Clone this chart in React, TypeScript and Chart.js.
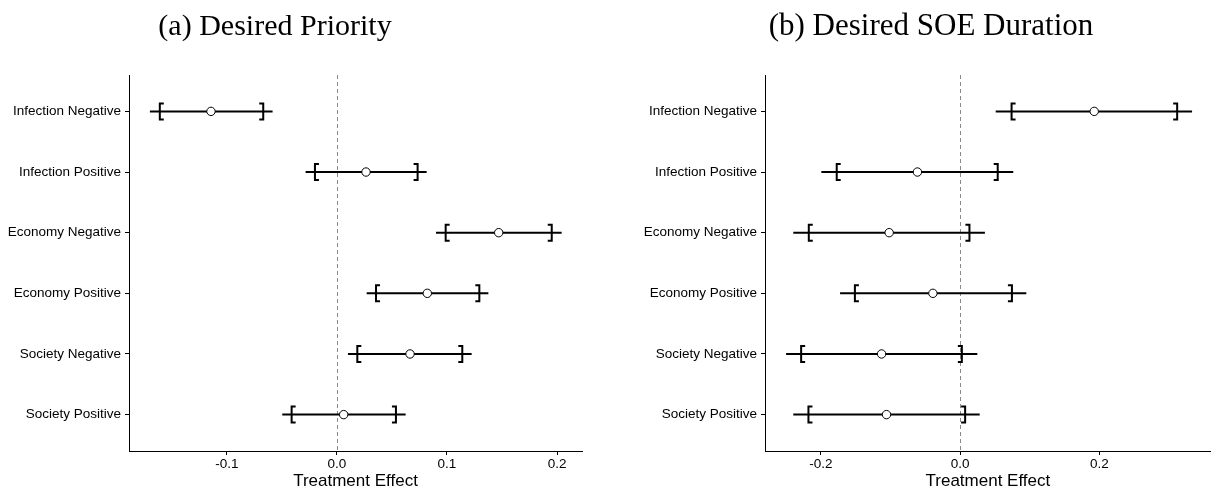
import React, { useEffect, useRef } from "react";
import { Chart, registerables } from "chart.js";

Chart.register(...registerables);

// Categories, top to bottom
const categories = [
  "Infection Negative",
  "Infection Positive",
  "Economy Negative",
  "Economy Positive",
  "Society Negative",
  "Society Positive",
];

// (a) Desired Priority
const priorityEstimate = [-0.1145, 0.0264, 0.147, 0.0821, 0.0664, 0.0061];
const priorityLow95 = [-0.17, -0.0285, 0.09, 0.027, 0.01, -0.0497];
const priorityHigh95 = [-0.0585, 0.0815, 0.2042, 0.1376, 0.1224, 0.0624];
const priorityLow90 = [-0.161, -0.02, 0.0988, 0.0355, 0.0185, -0.0412];
const priorityHigh90 = [-0.067, 0.0733, 0.1952, 0.1294, 0.1139, 0.0536];
const priorityTicks = [-0.1, 0.0, 0.1, 0.2];

// (b) Desired SOE Duration
const durationEstimate = [0.1925, -0.0614, -0.102, -0.0392, -0.1129, -0.1058];
const durationLow95 = [0.051, -0.1994, -0.2397, -0.1725, -0.25, -0.2397];
const durationHigh95 = [0.333, 0.0762, 0.0355, 0.095, 0.0246, 0.028];
const durationLow90 = [0.0738, -0.1773, -0.2174, -0.1512, -0.2284, -0.2179];
const durationHigh90 = [0.3116, 0.0539, 0.0133, 0.0743, 0.0024, 0.0071];
const durationTicks = [-0.2, 0.0, 0.2];

const SANS = '"Liberation Sans", Arial, sans-serif';
const SERIF = '"Liberation Serif", "Times New Roman", serif';

type PanelSpec = {
  title: string;
  titleX: number;
  titleSize: number;
  estimate: number[];
  low95: number[];
  high95: number[];
  low90: number[];
  high90: number[];
  ticks: number[];
  xMin: number;
  xMax: number;
  yAxisWidth: number;
  padRight: number;
};

const intervalPlugin = {
  id: "intervals",
  beforeDatasetsDraw(chart: any) {
    const opts = chart.options.plugins.intervals;
    if (!opts) return;
    const { ctx, chartArea } = chart;
    const xs = chart.scales.x;
    const ys = chart.scales.y;
    const n = opts.low95.length;
    ctx.save();
    // dashed zero reference line
    const x0 = Math.round(xs.getPixelForValue(0)) + 0.5;
    ctx.strokeStyle = "#8a8a8a";
    ctx.lineWidth = 1;
    ctx.setLineDash([4, 3]);
    ctx.beginPath();
    ctx.moveTo(x0, chartArea.top);
    ctx.lineTo(x0, chartArea.bottom);
    ctx.stroke();
    ctx.setLineDash([]);
    ctx.strokeStyle = "#000";
    ctx.lineWidth = 2;
    ctx.lineCap = "butt";
    for (let i = 0; i < n; i++) {
      const y = ys.getPixelForValue(n - i);
      const a = xs.getPixelForValue(opts.low95[i]);
      const b = xs.getPixelForValue(opts.high95[i]);
      ctx.beginPath();
      ctx.moveTo(a, y);
      ctx.lineTo(b, y);
      ctx.stroke();
      const l = xs.getPixelForValue(opts.low90[i]);
      const h = xs.getPixelForValue(opts.high90[i]);
      const hh = 8;
      const s = 4;
      ctx.beginPath();
      ctx.moveTo(l + s, y - hh);
      ctx.lineTo(l, y - hh);
      ctx.lineTo(l, y + hh);
      ctx.lineTo(l + s, y + hh);
      ctx.stroke();
      ctx.beginPath();
      ctx.moveTo(h - s, y - hh);
      ctx.lineTo(h, y - hh);
      ctx.lineTo(h, y + hh);
      ctx.lineTo(h - s, y + hh);
      ctx.stroke();
    }
    ctx.restore();
  },
};

const panelTitlePlugin = {
  id: "panelTitle",
  afterDraw(chart: any) {
    const opts = chart.options.plugins.panelTitle;
    if (!opts) return;
    const { ctx } = chart;
    ctx.save();
    ctx.fillStyle = "#000";
    ctx.font = `${opts.size}px ${SERIF}`;
    ctx.textAlign = "center";
    ctx.textBaseline = "alphabetic";
    ctx.fillText(opts.text, opts.x, opts.y);
    ctx.restore();
  },
};

function Panel({ spec }: { spec: PanelSpec }) {
  const ref = useRef<HTMLCanvasElement | null>(null);
  useEffect(() => {
    if (!ref.current) return;
    const n = categories.length;
    const chart = new Chart(ref.current, {
      type: "scatter",
      data: {
        datasets: [
          {
            data: spec.estimate.map((v, i) => ({ x: v, y: n - i })),
            pointRadius: 4.2,
            pointHoverRadius: 4.2,
            pointBackgroundColor: "#ffffff",
            pointBorderColor: "#000000",
            pointBorderWidth: 1,
          },
        ],
      },
      options: {
        responsive: false,
        animation: false,
        events: [],
        layout: { padding: { top: 75, right: spec.padRight, left: 0, bottom: 0 } },
        plugins: {
          legend: { display: false },
          tooltip: { enabled: false },
          title: { display: false },
          intervals: {
            low95: spec.low95,
            high95: spec.high95,
            low90: spec.low90,
            high90: spec.high90,
          },
          panelTitle: { text: spec.title, x: spec.titleX, y: 35, size: spec.titleSize },
        } as any,
        scales: {
          x: {
            type: "linear",
            min: spec.xMin,
            max: spec.xMax,
            afterBuildTicks: (s: any) => {
              s.ticks = spec.ticks.map((v) => ({ value: v }));
            },
            afterFit: (s: any) => {
              s.height = 42;
            },
            ticks: {
              callback: (v: any) => Number(v).toFixed(1),
              font: { family: SANS, size: 13.5 },
              color: "#000",
              padding: 1,
              maxRotation: 0,
              autoSkip: false,
            },
            grid: {
              display: true,
              drawOnChartArea: false,
              drawTicks: true,
              tickLength: 4,
              color: "#000",
              lineWidth: 1,
            },
            border: { display: true, color: "#000", width: 1 },
            title: {
              display: true,
              text: "Treatment Effect",
              font: { family: SANS, size: 17 },
              color: "#000",
              padding: { top: 0, bottom: 1 },
            },
          },
          y: {
            type: "linear",
            min: 0.4,
            max: 6.6,
            afterBuildTicks: (s: any) => {
              s.ticks = categories.map((_, i) => ({ value: n - i }));
            },
            afterFit: (s: any) => {
              s.width = spec.yAxisWidth;
            },
            ticks: {
              callback: (v: any) => categories[n - Number(v)],
              font: { family: SANS, size: 13.5 },
              color: "#000",
              padding: 4,
              autoSkip: false,
            },
            grid: {
              display: true,
              drawOnChartArea: false,
              drawTicks: true,
              tickLength: 4,
              color: "#000",
              lineWidth: 1,
            },
            border: { display: true, color: "#000", width: 1 },
          },
        },
      },
      plugins: [intervalPlugin, panelTitlePlugin],
    } as any);
    return () => chart.destroy();
  }, [spec]);
  return <canvas ref={ref} width={608} height={493} style={{ display: "block" }} />;
}

const leftSpec: PanelSpec = {
  title: "(a) Desired Priority",
  titleX: 275,
  titleSize: 30,
  estimate: priorityEstimate,
  low95: priorityLow95,
  high95: priorityHigh95,
  low90: priorityLow90,
  high90: priorityHigh90,
  ticks: priorityTicks,
  xMin: -0.189,
  xMax: 0.2227,
  yAxisWidth: 129,
  padRight: 26,
};

const rightSpec: PanelSpec = {
  title: "(b) Desired SOE Duration",
  titleX: 323,
  titleSize: 31,
  estimate: durationEstimate,
  low95: durationLow95,
  high95: durationHigh95,
  low90: durationLow90,
  high90: durationHigh90,
  ticks: durationTicks,
  xMin: -0.2803,
  xMax: 0.3599,
  yAxisWidth: 157,
  padRight: 0,
};

export default function App() {
  return (
    <div
      style={{
        position: "absolute",
        left: 0,
        top: 0,
        width: 1216,
        height: 493,
        display: "flex",
        background: "#fff",
        overflow: "hidden",
      }}
    >
      <Panel spec={leftSpec} />
      <Panel spec={rightSpec} />
    </div>
  );
}
